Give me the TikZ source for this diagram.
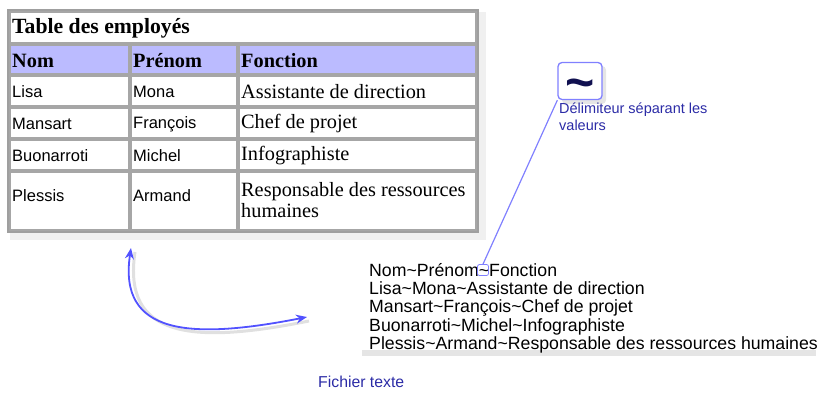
\documentclass[tikz,border=0pt]{standalone}
\usepackage{fontspec}
\setmainfont{Liberation Serif}
\newfontfamily\arialfont{Liberation Sans}
\usetikzlibrary{arrows.meta}
\usetikzlibrary{positioning}

\definecolor{headblue}{HTML}{BBBBFF}
\definecolor{labelblue}{HTML}{2B2BA6}
\definecolor{arrowblue}{HTML}{5252FF}
\definecolor{boxblue}{HTML}{8080FF}
\definecolor{tildenavy}{HTML}{101050}

\tikzset{
  cell/.style={draw=gray!70,line width=1.1pt},
  sanstext/.style={font=\arialfont\fontsize{16.5}{18}\selectfont,anchor=west,inner sep=0pt},
  seriftext/.style={font=\fontsize{20.3}{21}\selectfont,anchor=west,inner sep=0pt},
  headtext/.style={font=\bfseries\fontsize{20.3}{21}\selectfont,anchor=west,inner sep=0pt},
  bluetext/.style={font=\arialfont\fontsize{14.5}{17}\selectfont,text=labelblue,inner sep=0pt},
  delimbox/.style={draw=boxblue,line width=1.3pt,fill=white,rounded corners=4pt,minimum width=44pt,minimum height=37pt,inner sep=0pt},
}

\begin{document}
\begin{tikzpicture}[x=1pt,y=-1pt]
\useasboundingbox (0,0) rectangle (821,392);

% table
\fill[black!12] (12,14) rectangle (483,237);
\fill[black!6] (10,12) rectangle (486,240);
\draw[fill=white,draw=gray!75,line width=1.3pt] (8,10) rectangle (478,232);
\draw[cell] (10,12) rectangle (476,43);
\draw[cell,fill=headblue] (10,45) rectangle (129,74);
\draw[cell,fill=headblue] (131,45) rectangle (237,74);
\draw[cell,fill=headblue] (239,45) rectangle (476,74);
\draw[cell] (10,76) rectangle (129,106);
\draw[cell] (131,76) rectangle (237,106);
\draw[cell] (239,76) rectangle (476,106);
\draw[cell] (10,108) rectangle (129,138);
\draw[cell] (131,108) rectangle (237,138);
\draw[cell] (239,108) rectangle (476,138);
\draw[cell] (10,140) rectangle (129,170);
\draw[cell] (131,140) rectangle (237,170);
\draw[cell] (239,140) rectangle (476,170);
\draw[cell] (10,172) rectangle (129,230);
\draw[cell] (131,172) rectangle (237,230);
\draw[cell] (239,172) rectangle (476,230);

\node[headtext,font=\bfseries\fontsize{21.7}{22}\selectfont] (title) at (12,28) {Table des employés};
\node[headtext] (hnom) at (12,61) {Nom};
\node[headtext] (hprenom) at (133,61) {Prénom};
\node[headtext] (hfonction) at (241,61) {Fonction};

\node[sanstext] (n1) at (12,92) {Lisa};
\node[sanstext] (p1) at (133,92) {Mona};
\node[seriftext] (f1) at (241,92) {Assistante de direction};
\node[sanstext] (n2) at (12,124) {Mansart};
\node[sanstext] (p2) at (133,124) {François};
\node[seriftext] (f2) at (241,124) {Chef de projet};
\node[sanstext] (n3) at (12,156) {Buonarroti};
\node[sanstext] (p3) at (133,156) {Michel};
\node[seriftext] (f3) at (241,156) {Infographiste};
\node[sanstext] (n4) at (12,196) {Plessis};
\node[sanstext] (p4) at (133,196) {Armand};
\node[seriftext,align=left] (f4) at (241,200) {Responsable des ressources\\humaines};

% text file
\fill[black!10] (362,350) rectangle (816,356);
\node[font=\arialfont\fontsize{17.7}{18.3}\selectfont,anchor=north west,align=left,inner sep=0pt] (file) at (369,263)
  {Nom\char"7E Prénom\char"7E Fonction\\
   Lisa\char"7E Mona\char"7E Assistante de direction\\
   Mansart\char"7E François\char"7E Chef de projet\\
   Buonarroti\char"7E Michel\char"7E Infographiste\\
   Plessis\char"7E Armand\char"7E Responsable des ressources humaines};
\node[draw=boxblue,rounded corners=2pt,line width=0.8pt,minimum width=11pt,minimum height=11pt,inner sep=0pt] (tsmall) at (483,270) {};
\node[bluetext,font=\arialfont\fontsize{15.8}{17}\selectfont,anchor=west] (ftitle) at (318,382) {Fichier texte};

% delimiter
\fill[black!10,rounded corners=4pt] (562,66) rectangle (606,104);
\node[delimbox] (delim) at (580,81) {};
\node[inner sep=0pt,anchor=base,text height=8pt,text depth=0pt,font=\arialfont\bfseries\fontsize{50}{50}\selectfont,text=tildenavy] (tilde) at (580,99) {\char"7E};
\node[bluetext,anchor=north west,align=left] (dlabel) at (559,103) {Délimiteur séparant les\\valeurs};
\draw[boxblue,line width=1.2pt] (delim.south west) -- (tsmall.north);

% arrow
\coordinate (arrtop) at (131,248);
\coordinate (arrright) at (307,317);
\draw[black!12,line width=3pt] ([shift={(4,4)}]arrtop) .. controls (122,339) and (194,344) .. ([shift={(2,4)}]arrright);
\draw[arrowblue,line width=1.8pt,{Stealth[length=11pt,width=9pt]}-{Stealth[length=11pt,width=9pt]}] (arrtop) .. controls (118,335) and (190,340) .. (arrright);

\end{tikzpicture}
\end{document}
